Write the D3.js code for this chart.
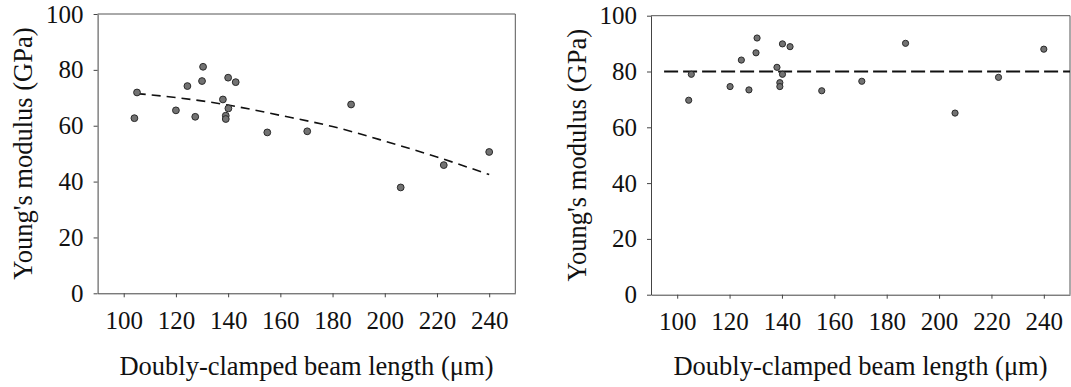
<!DOCTYPE html>
<html>
<head>
<meta charset="utf-8">
<script src="https://cdn.jsdelivr.net/npm/d3@7"></script>
<style>
  body { margin: 0; background: #fff; }
  svg { display: block; }
</style>
</head>
<body>
<svg width="1071" height="387"></svg>
<script>
const lengthsA = [104.1, 105.1, 120.0, 124.4, 127.4, 130.0, 130.4, 138.0, 139.1, 139.1, 140.0, 140.1, 142.9, 155.0, 170.3, 187.1, 206.1, 222.6, 240.0];
const modulusA = [62.7, 71.9, 65.5, 74.2, 63.2, 76.0, 81.1, 69.4, 63.6, 62.4, 77.2, 66.2, 75.6, 57.6, 58.0, 67.6, 37.9, 45.9, 50.6];
const lengthsB = [104.4, 105.4, 120.2, 124.5, 127.4, 130.1, 130.5, 138.1, 139.2, 139.2, 140.2, 140.2, 143.1, 155.2, 170.5, 187.2, 206.1, 222.7, 240.0];
const modulusB = [69.7, 79.0, 74.6, 84.1, 73.4, 86.7, 92.0, 81.5, 76.0, 74.6, 89.9, 79.0, 88.9, 73.1, 76.5, 90.1, 65.1, 77.9, 88.0];

// dashed trend lines
const fitX = [105, 120, 140, 160, 180, 200, 220, 240];
const fitY = [71.5, 70.1, 67.4, 63.7, 59.7, 54.5, 48.8, 42.5];
const flatX = [95, 250];
const flatY = [80, 80];

const xTicks = [100, 120, 140, 160, 180, 200, 220, 240];
const yTicks = [0, 20, 40, 60, 80, 100];
const xDomain = [90, 250];
const yDomain = [0, 100];

const serif = '"Liberation Serif", "Times New Roman", serif';
const svg = d3.select('svg');

const drawPanel = ({left, right, top, bottom, xs, ys, lineX, lineY, dash, lineWidth, r, curve, labelX}) => {
  const x = d3.scaleLinear().domain(xDomain).range([left, right]);
  const y = d3.scaleLinear().domain(yDomain).range([bottom, top]);
  const g = svg.append('g');

  g.append('g')
    .attr('transform', `translate(0, ${bottom})`)
    .call(d3.axisBottom(x).tickValues(xTicks).tickSize(4).tickSizeOuter(0).tickPadding(14));

  g.append('g')
    .attr('transform', `translate(${left}, 0)`)
    .call(d3.axisLeft(y).tickValues(yTicks).tickSize(4).tickSizeOuter(0).tickPadding(10));

  g.selectAll('.domain, .tick line').attr('stroke', '#444');
  g.selectAll('.tick text')
    .style('font-family', serif)
    .style('font-size', '25px')
    .attr('fill', '#111');

  // top and right border
  g.append('path')
    .attr('d', `M${left},${top}H${right}V${bottom}`)
    .attr('fill', 'none')
    .attr('stroke', '#555');

  const line = d3.line()
    .x((d, i) => x(lineX[i]))
    .y(d => y(d))
    .curve(curve);

  g.append('path')
    .datum(lineY)
    .attr('d', line)
    .attr('fill', 'none')
    .attr('stroke', '#111')
    .attr('stroke-width', lineWidth)
    .attr('stroke-dasharray', dash);

  g.selectAll('circle')
    .data(ys)
    .enter()
    .append('circle')
    .attr('cx', (d, i) => x(xs[i]))
    .attr('cy', d => y(d))
    .attr('r', r)
    .attr('fill', '#727272')
    .attr('stroke', '#2a2a2a')
    .attr('stroke-width', 1);

  g.append('text')
    .style('font-family', serif)
    .style('font-size', '26.5px')
    .attr('fill', '#111')
    .attr('transform', `translate(${labelX}, ${(top + bottom) / 2}) rotate(-90)`)
    .attr('text-anchor', 'middle')
    .text("Young's modulus (GPa)");

  g.append('text')
    .style('font-family', serif)
    .style('font-size', '26.5px')
    .attr('fill', '#111')
    .attr('x', (left + right) / 2)
    .attr('y', 375)
    .attr('text-anchor', 'middle')
    .text('Doubly-clamped beam length (μm)');
};

drawPanel({
  left: 97.6, right: 515.3, top: 14, bottom: 293.3,
  xs: lengthsA, ys: modulusA, lineX: fitX, lineY: fitY,
  dash: '9,6', lineWidth: 1.6, r: 3.4, curve: d3.curveMonotoneX, labelX: 32
});

drawPanel({
  left: 651, right: 1070, top: 15.7, bottom: 294.7,
  xs: lengthsB, ys: modulusB, lineX: flatX, lineY: flatY,
  dash: '14,5', lineWidth: 2, r: 3.1, curve: d3.curveLinear, labelX: 586
});
</script>
</body>
</html>
